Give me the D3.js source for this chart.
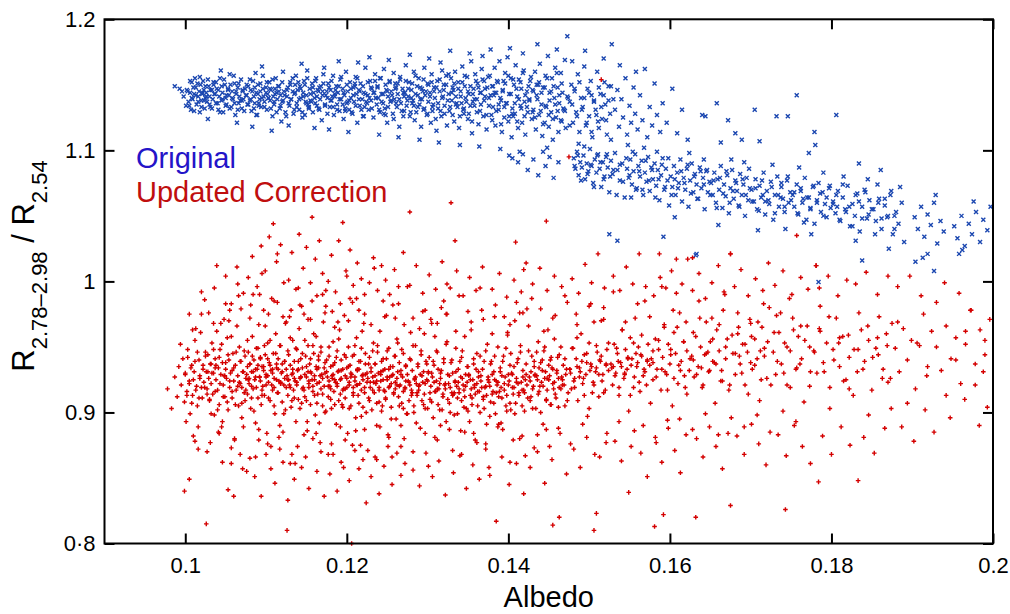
<!DOCTYPE html>
<html>
<head>
<meta charset="utf-8">
<script src="https://cdn.jsdelivr.net/npm/d3@7/dist/d3.min.js"></script>
<style>
html,body{margin:0;padding:0;background:#fff;}
svg{display:block;}
</style>
</head>
<body>
<svg id="chart" width="1010" height="614"></svg>
<script>
// Axis ticks and labels
const albedoTicks = [0.1, 0.12, 0.14, 0.16, 0.18, 0.2];
const albedoTickLabels = ["0.1", "0.12", "0.14", "0.16", "0.18", "0.2"];
const ratioTicks = [0.8, 0.9, 1.0, 1.1, 1.2];
const ratioTickLabels = ["0·8", "0.9", "1", "1.1", "1.2"];
const seriesNames = ["Original", "Updated Correction"];

// Original band ratio vs albedo: [albedo, ratio]
const originalPoints = [
[.0987,1.149],[.0993,1.147],[.0998,1.141],[.1002,1.146],[.1004,1.137],[.1006,1.144],[.1008,1.152],[.1009,1.139],[.1011,1.143],[.1013,1.148],[.1014,1.135],[.1016,1.141],[.1017,1.145],[.1019,1.150],[.1020,1.138],[.1021,1.143],[.1023,1.146],[.1024,1.132],[.1025,1.140],[.1001,1.134],[.1012,1.155],[.1018,1.129],[.1022,1.153],[.0996,1.145],[.1007,1.131],
[.1026,1.144],[.1027,1.137],[.1029,1.149],[.1030,1.141],[.1031,1.133],[.1033,1.146],[.1034,1.139],[.1035,1.152],[.1037,1.143],[.1038,1.136],[.1039,1.147],[.1041,1.131],[.1042,1.141],[.1043,1.155],[.1045,1.138],[.1046,1.144],[.1047,1.129],[.1049,1.150],[.1050,1.140],[.1051,1.135],[.1053,1.146],[.1054,1.142],[.1055,1.158],[.1057,1.133],[.1058,1.145],[.1059,1.139],[.1061,1.151],[.1062,1.127],[.1063,1.143],[.1065,1.148],[.1066,1.136],[.1067,1.141],[.1069,1.154],[.1070,1.132],[.1071,1.145],[.1072,1.139],[.1074,1.147],[.1028,1.124],[.1044,1.161],[.1064,1.121],
[.1076,1.142],[.1077,1.135],[.1078,1.149],[.1080,1.138],[.1081,1.146],[.1082,1.130],[.1084,1.153],[.1085,1.141],[.1086,1.136],[.1088,1.144],[.1089,1.127],[.1090,1.150],[.1092,1.139],[.1093,1.145],[.1094,1.133],[.1096,1.157],[.1097,1.141],[.1098,1.137],[.1100,1.148],[.1101,1.131],[.1102,1.143],[.1104,1.152],[.1105,1.138],[.1106,1.146],[.1108,1.126],[.1109,1.141],[.1110,1.135],[.1112,1.155],[.1113,1.144],[.1114,1.139],[.1116,1.149],[.1117,1.132],[.1118,1.142],[.1120,1.137],[.1121,1.160],[.1122,1.145],[.1124,1.129],[.1083,1.118],[.1095,1.164],[.1107,1.115],[.1119,1.122],[.1087,1.159],[.1111,1.147],[.1103,1.140],[.1091,1.134],
[.1126,1.141],[.1127,1.148],[.1129,1.134],[.1130,1.152],[.1131,1.139],[.1133,1.145],[.1134,1.128],[.1135,1.143],[.1137,1.157],[.1138,1.136],[.1139,1.146],[.1141,1.131],[.1142,1.149],[.1143,1.140],[.1145,1.125],[.1146,1.144],[.1147,1.153],[.1149,1.137],[.1150,1.142],[.1151,1.161],[.1153,1.133],[.1154,1.147],[.1155,1.138],[.1157,1.151],[.1158,1.129],[.1159,1.144],[.1161,1.136],[.1162,1.155],[.1163,1.141],[.1165,1.132],[.1166,1.148],[.1167,1.139],[.1169,1.123],[.1170,1.145],[.1171,1.158],[.1173,1.134],[.1174,1.142],[.1128,1.119],[.1144,1.166],[.1160,1.117],[.1172,1.163],[.1136,1.150],[.1152,1.135],[.1164,1.146],[.1148,1.127],
[.1176,1.140],[.1177,1.151],[.1179,1.133],[.1180,1.146],[.1181,1.138],[.1183,1.157],[.1184,1.127],[.1185,1.143],[.1187,1.149],[.1188,1.135],[.1189,1.144],[.1191,1.130],[.1192,1.154],[.1193,1.139],[.1195,1.147],[.1196,1.124],[.1197,1.142],[.1199,1.160],[.1200,1.136],[.1201,1.145],[.1203,1.131],[.1204,1.152],[.1205,1.140],[.1207,1.128],[.1208,1.148],[.1209,1.137],[.1211,1.156],[.1212,1.143],[.1213,1.121],[.1215,1.146],[.1216,1.134],[.1217,1.151],[.1219,1.139],[.1220,1.126],[.1221,1.144],[.1223,1.163],[.1224,1.137],[.1178,1.116],[.1190,1.168],[.1202,1.114],[.1214,1.167],[.1182,1.141],[.1198,1.132],[.1210,1.149],[.1222,1.133],
[.1226,1.142],[.1227,1.131],[.1229,1.153],[.1230,1.138],[.1231,1.147],[.1233,1.125],[.1234,1.144],[.1235,1.158],[.1237,1.135],[.1238,1.149],[.1239,1.140],[.1241,1.129],[.1242,1.155],[.1243,1.143],[.1245,1.136],[.1246,1.162],[.1247,1.132],[.1249,1.146],[.1250,1.121],[.1251,1.141],[.1253,1.152],[.1254,1.137],[.1255,1.145],[.1257,1.128],[.1258,1.159],[.1259,1.139],[.1261,1.148],[.1262,1.133],[.1263,1.143],[.1265,1.118],[.1266,1.154],[.1267,1.136],[.1269,1.147],[.1270,1.126],[.1271,1.141],[.1273,1.165],[.1274,1.134],[.1228,1.171],[.1240,1.112],[.1252,1.169],[.1264,1.110],[.1236,1.140],[.1248,1.127],[.1260,1.151],[.1272,1.144],
[.1276,1.141],[.1277,1.152],[.1279,1.129],[.1280,1.146],[.1281,1.136],[.1283,1.160],[.1284,1.123],[.1285,1.143],[.1287,1.149],[.1288,1.133],[.1289,1.155],[.1291,1.139],[.1292,1.118],[.1293,1.147],[.1295,1.131],[.1296,1.163],[.1297,1.142],[.1299,1.127],[.1300,1.151],[.1301,1.137],[.1303,1.144],[.1304,1.121],[.1305,1.158],[.1307,1.135],[.1308,1.148],[.1309,1.140],[.1311,1.115],[.1312,1.153],[.1313,1.132],[.1315,1.145],[.1316,1.167],[.1317,1.126],[.1319,1.141],[.1320,1.150],[.1321,1.134],[.1323,1.157],[.1324,1.119],[.1278,1.173],[.1290,1.108],[.1302,1.170],[.1314,1.106],[.1282,1.138],[.1294,1.145],[.1306,1.130],[.1318,1.161],
[.1326,1.143],[.1327,1.130],[.1329,1.155],[.1330,1.138],[.1331,1.148],[.1333,1.122],[.1334,1.160],[.1335,1.141],[.1337,1.133],[.1338,1.152],[.1339,1.117],[.1341,1.145],[.1342,1.136],[.1343,1.164],[.1345,1.128],[.1346,1.149],[.1347,1.140],[.1349,1.156],[.1350,1.124],[.1351,1.143],[.1353,1.134],[.1354,1.168],[.1355,1.113],[.1357,1.147],[.1358,1.139],[.1359,1.158],[.1361,1.129],[.1362,1.151],[.1363,1.120],[.1365,1.144],[.1366,1.135],[.1367,1.162],[.1369,1.126],[.1370,1.153],[.1371,1.141],[.1373,1.116],[.1374,1.148],[.1328,1.176],[.1340,1.104],[.1352,1.174],[.1364,1.103],[.1332,1.146],[.1344,1.131],[.1356,1.137],[.1368,1.172],
[.1376,1.140],[.1377,1.157],[.1379,1.127],[.1380,1.149],[.1381,1.133],[.1383,1.163],[.1384,1.119],[.1385,1.144],[.1387,1.152],[.1388,1.131],[.1389,1.168],[.1391,1.138],[.1392,1.114],[.1393,1.146],[.1395,1.125],[.1396,1.159],[.1397,1.136],[.1399,1.171],[.1400,1.122],[.1401,1.143],[.1403,1.155],[.1404,1.110],[.1405,1.132],[.1407,1.150],[.1408,1.128],[.1409,1.165],[.1411,1.141],[.1412,1.117],[.1413,1.154],[.1415,1.134],[.1416,1.147],[.1417,1.121],[.1419,1.161],[.1420,1.137],[.1421,1.112],[.1423,1.145],[.1424,1.129],[.1378,1.177],[.1390,1.101],[.1402,1.178],[.1414,1.099],[.1382,1.142],[.1394,1.153],[.1406,1.126],[.1418,1.174],
[.1426,1.139],[.1427,1.153],[.1429,1.124],[.1430,1.146],[.1431,1.131],[.1433,1.160],[.1434,1.116],[.1435,1.142],[.1437,1.150],[.1438,1.127],[.1439,1.166],[.1441,1.135],[.1442,1.111],[.1443,1.148],[.1445,1.121],[.1446,1.157],[.1447,1.133],[.1449,1.172],[.1450,1.118],[.1451,1.144],[.1453,1.129],[.1454,1.155],[.1455,1.108],[.1457,1.140],[.1458,1.163],[.1459,1.125],[.1461,1.148],[.1462,1.114],[.1463,1.136],[.1465,1.159],[.1466,1.122],[.1467,1.144],[.1469,1.131],[.1470,1.169],[.1471,1.117],[.1473,1.187],[.1474,1.140],[.1436,1.181],[.1448,1.102],[.1460,1.177],
[.1476,1.137],[.1478,1.150],[.1480,1.121],[.1482,1.145],[.1484,1.129],[.1486,1.158],[.1488,1.114],[.1490,1.140],[.1492,1.133],[.1494,1.164],[.1496,1.119],[.1498,1.147],[.1500,1.126],[.1502,1.153],[.1504,1.110],[.1506,1.138],[.1508,1.131],[.1510,1.160],[.1512,1.117],[.1514,1.143],[.1516,1.124],[.1518,1.170],[.1520,1.135],[.1522,1.112],[.1524,1.149],[.1526,1.128],[.1528,1.181],[.1479,1.168],[.1487,1.105],[.1495,1.176],[.1503,1.142],[.1511,1.122],[.1519,1.152],[.1527,1.108],[.1530,1.139],
[.1532,1.131],[.1535,1.146],[.1537,1.118],[.1540,1.139],[.1542,1.125],[.1545,1.155],[.1547,1.112],[.1550,1.134],[.1552,1.121],[.1555,1.148],[.1557,1.128],[.1560,1.116],[.1563,1.142],[.1566,1.123],[.1569,1.162],[.1572,1.110],[.1575,1.133],[.1578,1.119],[.1581,1.151],[.1584,1.127],[.1588,1.114],[.1538,1.165],[.1548,1.104],[.1558,1.160],[.1591,1.136],
[.1596,1.121],[.1603,1.147],[.1609,1.113],[.1615,1.131],[.1622,1.108],[.1640,1.127],[.1658,1.136],[.1644,1.126],[.1705,1.131],[.1663,1.106],[.1672,1.123],[.1681,1.113],[.1732,1.126],[.1746,1.126],[.1711,1.107],[.1757,1.142],[.1806,1.127],[.1780,1.104],[.1772,1.098],[.1779,1.114],[.1834,1.090],[.1861,1.085],[.1689,1.108],
[.1003,1.145],[.1005,1.134],[.1006,1.153],[.1008,1.140],[.1010,1.148],[.1011,1.130],[.1013,1.142],[.1015,1.151],[.1016,1.137],[.1018,1.156],[.1020,1.133],[.1021,1.144],[.1023,1.138],[.1025,1.149],[.1026,1.141],[.1028,1.154],[.1030,1.135],[.1031,1.146],[.1033,1.132],[.1035,1.150],
[.1036,1.143],[.1038,1.152],[.1040,1.136],[.1041,1.146],[.1043,1.129],[.1045,1.149],[.1046,1.139],[.1048,1.154],[.1050,1.134],[.1051,1.142],[.1053,1.147],[.1055,1.132],[.1056,1.150],[.1058,1.140],[.1060,1.157],[.1061,1.136],[.1063,1.145],[.1065,1.131],[.1066,1.151],[.1068,1.138],
[.1070,1.138],[.1071,1.146],[.1073,1.130],[.1075,1.142],[.1076,1.150],[.1078,1.135],[.1080,1.154],[.1081,1.139],[.1083,1.145],[.1085,1.132],[.1086,1.148],[.1088,1.127],[.1090,1.143],[.1091,1.136],[.1093,1.151],[.1095,1.140],[.1096,1.147],[.1098,1.133],[.1100,1.144],[.1101,1.152],
[.1103,1.140],[.1105,1.147],[.1106,1.132],[.1108,1.154],[.1110,1.137],[.1111,1.143],[.1113,1.129],[.1115,1.149],[.1116,1.145],[.1118,1.134],[.1120,1.152],[.1121,1.138],[.1123,1.142],[.1125,1.126],[.1126,1.146],[.1128,1.136],[.1130,1.150],[.1131,1.139],[.1133,1.155],[.1135,1.131],
[.1136,1.144],[.1138,1.133],[.1140,1.152],[.1141,1.139],[.1143,1.147],[.1145,1.129],[.1146,1.141],[.1148,1.150],[.1150,1.136],[.1151,1.155],[.1153,1.132],[.1155,1.143],[.1156,1.137],[.1158,1.148],[.1160,1.140],[.1161,1.153],[.1163,1.134],[.1165,1.145],[.1166,1.131],[.1168,1.149],
[.1170,1.142],[.1171,1.151],[.1173,1.135],[.1175,1.145],[.1176,1.128],[.1178,1.148],[.1180,1.138],[.1181,1.153],[.1183,1.133],[.1185,1.141],[.1186,1.146],[.1188,1.131],[.1190,1.149],[.1191,1.139],[.1193,1.156],[.1195,1.135],[.1196,1.144],[.1198,1.130],[.1200,1.150],[.1201,1.137],
[.1203,1.138],[.1205,1.147],[.1206,1.129],[.1208,1.142],[.1210,1.151],[.1211,1.134],[.1213,1.155],[.1215,1.139],[.1216,1.145],[.1218,1.131],[.1220,1.149],[.1221,1.126],[.1223,1.143],[.1225,1.136],[.1226,1.152],[.1228,1.140],[.1230,1.148],[.1231,1.132],[.1233,1.144],[.1235,1.153],
[.1236,1.140],[.1238,1.148],[.1240,1.131],[.1241,1.155],[.1243,1.137],[.1245,1.143],[.1246,1.128],[.1248,1.150],[.1250,1.145],[.1251,1.133],[.1253,1.153],[.1255,1.138],[.1256,1.142],[.1258,1.124],[.1260,1.147],[.1261,1.136],[.1263,1.151],[.1265,1.139],[.1266,1.156],[.1268,1.130],
[.1270,1.144],[.1271,1.130],[.1273,1.153],[.1275,1.138],[.1276,1.147],[.1278,1.126],[.1280,1.140],[.1281,1.151],[.1283,1.134],[.1285,1.157],[.1286,1.129],[.1288,1.142],[.1290,1.135],[.1291,1.148],[.1293,1.139],[.1295,1.154],[.1296,1.132],[.1298,1.145],[.1300,1.128],[.1301,1.150],
[.1303,1.141],[.1305,1.152],[.1306,1.133],[.1308,1.145],[.1310,1.124],[.1311,1.148],[.1313,1.136],[.1315,1.154],[.1316,1.130],[.1318,1.140],[.1320,1.146],[.1321,1.128],[.1323,1.150],[.1325,1.138],[.1326,1.158],[.1328,1.133],[.1330,1.144],[.1331,1.127],[.1333,1.151],[.1335,1.135],
[.1336,1.136],[.1338,1.147],[.1340,1.126],[.1341,1.141],[.1343,1.152],[.1345,1.132],[.1346,1.157],[.1348,1.137],[.1350,1.145],[.1351,1.128],[.1353,1.149],[.1355,1.122],[.1356,1.143],[.1358,1.134],[.1360,1.153],[.1361,1.139],[.1363,1.148],[.1365,1.130],[.1366,1.144],[.1368,1.154],
[.1370,1.138],[.1371,1.147],[.1373,1.127],[.1375,1.156],[.1376,1.134],[.1378,1.142],[.1380,1.123],[.1381,1.149],[.1383,1.144],[.1385,1.130],[.1386,1.153],[.1388,1.135],[.1390,1.140],[.1391,1.120],[.1393,1.145],[.1395,1.133],[.1396,1.151],[.1398,1.136],[.1400,1.157],[.1401,1.126],
[.1403,1.143],[.1405,1.128],[.1406,1.154],[.1408,1.136],[.1410,1.147],[.1411,1.122],[.1413,1.139],[.1415,1.152],[.1416,1.132],[.1418,1.159],[.1420,1.126],[.1421,1.142],[.1423,1.133],[.1425,1.149],[.1426,1.138],[.1428,1.156],[.1430,1.129],[.1431,1.145],[.1433,1.125],[.1435,1.150],
[.1436,1.139],[.1438,1.152],[.1440,1.130],[.1441,1.144],[.1443,1.120],[.1445,1.148],[.1446,1.134],[.1448,1.155],[.1450,1.127],[.1451,1.138],[.1453,1.145],[.1455,1.124],[.1456,1.149],[.1458,1.135],[.1460,1.159],[.1461,1.130],[.1463,1.142],[.1465,1.123],[.1466,1.151],[.1468,1.132],
[.1470,1.130],[.1473,1.141],[.1476,1.119],[.1479,1.135],[.1482,1.147],[.1485,1.126],[.1488,1.152],[.1491,1.131],[.1494,1.140],[.1497,1.121],[.1500,1.144],[.1503,1.114],[.1506,1.137],[.1509,1.127],[.1512,1.148],[.1515,1.133],[.1518,1.142],[.1521,1.123],[.1524,1.138],[.1527,1.149],
[.1401,1.096],[.1405,1.094],[.1412,1.091],[.1418,1.097],[.1424,1.085],[.1431,1.093],[.1437,1.081],[.1443,1.099],[.1446,1.088],[.1451,1.095],[.1456,1.079],[.1462,1.091],
[.1481,1.094],[.1483,1.086],[.1485,1.099],[.1487,1.081],[.1489,1.091],[.1491,1.087],[.1493,1.096],[.1495,1.078],[.1497,1.090],[.1499,1.084],[.1501,1.101],[.1503,1.088],[.1505,1.075],[.1507,1.093],[.1509,1.083],[.1511,1.097],[.1513,1.086],[.1515,1.072],[.1517,1.091],[.1519,1.080],[.1521,1.095],[.1523,1.087],[.1525,1.068],[.1527,1.092],[.1529,1.082],[.1532,1.098],[.1535,1.085],[.1538,1.077],[.1541,1.090],[.1544,1.064],
[.1547,1.086],[.1549,1.079],[.1551,1.093],[.1553,1.074],[.1555,1.084],[.1557,1.097],[.1559,1.071],[.1561,1.088],[.1563,1.080],[.1565,1.092],[.1567,1.066],[.1569,1.083],[.1571,1.076],[.1573,1.095],[.1575,1.069],[.1577,1.087],[.1579,1.078],[.1581,1.090],[.1583,1.073],[.1585,1.085],[.1587,1.062],[.1589,1.081],[.1591,1.094],[.1593,1.070],[.1595,1.086],[.1597,1.077],[.1599,1.058],[.1552,1.064],[.1568,1.102],[.1584,1.099],
[.1601,1.080],[.1603,1.072],[.1605,1.088],[.1607,1.066],[.1609,1.083],[.1611,1.075],[.1613,1.093],[.1615,1.061],[.1617,1.079],[.1619,1.070],[.1621,1.086],[.1623,1.057],[.1625,1.077],[.1627,1.090],[.1629,1.068],[.1631,1.082],[.1633,1.074],[.1635,1.063],[.1637,1.087],[.1639,1.071],[.1641,1.079],[.1643,1.055],[.1645,1.084],[.1647,1.068],[.1649,1.076],[.1606,1.049],[.1624,1.098],[.1642,1.093],
[.1651,1.075],[.1653,1.066],[.1655,1.083],[.1657,1.060],[.1659,1.078],[.1661,1.070],[.1663,1.088],[.1665,1.056],[.1667,1.074],[.1669,1.065],[.1671,1.081],[.1673,1.052],[.1675,1.071],[.1677,1.085],[.1679,1.063],[.1681,1.077],[.1683,1.069],[.1685,1.058],[.1687,1.082],[.1689,1.066],[.1691,1.074],[.1693,1.050],[.1695,1.079],[.1697,1.062],[.1699,1.071],[.1660,1.043],[.1676,1.093],[.1692,1.091],
[.1701,1.070],[.1704,1.061],[.1706,1.078],[.1708,1.055],[.1711,1.073],[.1713,1.064],[.1716,1.083],[.1718,1.051],[.1720,1.069],[.1723,1.059],[.1725,1.076],[.1728,1.047],[.1730,1.066],[.1733,1.080],[.1735,1.057],[.1738,1.072],[.1740,1.063],[.1742,1.053],[.1745,1.077],[.1747,1.060],[.1749,1.068],[.1709,1.039],[.1727,1.089],[.1743,1.040],[.1715,1.066],[.1737,1.064],
[.1752,1.066],[.1754,1.057],[.1757,1.074],[.1759,1.051],[.1762,1.069],[.1764,1.060],[.1767,1.079],[.1769,1.047],[.1772,1.064],[.1774,1.055],[.1777,1.072],[.1779,1.044],[.1782,1.062],[.1784,1.075],[.1787,1.053],[.1789,1.068],[.1792,1.059],[.1794,1.049],[.1797,1.071],[.1799,1.056],[.1760,1.087],[.1775,1.036],[.1790,1.083],[.1765,1.063],
[.1802,1.061],[.1805,1.052],[.1808,1.069],[.1811,1.046],[.1814,1.064],[.1817,1.055],[.1820,1.073],[.1823,1.042],[.1826,1.059],[.1829,1.050],[.1832,1.067],[.1835,1.038],[.1838,1.057],[.1841,1.070],[.1844,1.048],[.1847,1.062],[.1815,1.080],[.1830,1.031],[.1845,1.078],[.1807,1.057],
[.1852,1.055],[.1855,1.046],[.1859,1.063],[.1862,1.040],[.1866,1.058],[.1869,1.049],[.1873,1.066],[.1876,1.036],[.1880,1.053],[.1883,1.044],[.1887,1.060],[.1890,1.030],[.1857,1.074],[.1871,1.025],[.1885,1.072],[.1878,1.050],
[.1903,1.049],[.1907,1.040],[.1911,1.057],[.1915,1.034],[.1919,1.051],[.1923,1.043],[.1927,1.060],[.1931,1.029],[.1935,1.046],[.1939,1.038],[.1913,1.018],[.1929,1.066],
[.1952,1.042],[.1956,1.033],[.1961,1.050],[.1965,1.027],[.1970,1.044],[.1974,1.036],[.1979,1.053],[.1984,1.030],[.1988,1.047],[.1993,1.039],[.1997,1.057],[.1958,1.021],[.1976,1.061],
[.1482,1.088],[.1486,1.096],[.1490,1.077],[.1494,1.103],[.1498,1.082],[.1502,1.089],[.1506,1.072],[.1510,1.096],[.1514,1.091],[.1518,1.078],[.1522,1.097],[.1526,1.080],[.1530,1.085],[.1534,1.066],[.1538,1.089],[.1542,1.076],[.1546,1.094],[.1550,1.081],[.1554,1.099],[.1558,1.070],
[.1562,1.084],[.1566,1.070],[.1570,1.092],[.1574,1.077],[.1578,1.085],[.1582,1.064],[.1586,1.078],[.1590,1.089],[.1594,1.072],[.1598,1.094],[.1602,1.066],[.1606,1.078],[.1610,1.071],[.1614,1.084],[.1618,1.075],[.1622,1.089],[.1626,1.067],[.1630,1.080],[.1634,1.063],[.1638,1.084],
[.1642,1.074],[.1646,1.085],[.1650,1.066],[.1654,1.077],[.1658,1.056],[.1662,1.079],[.1666,1.067],[.1670,1.084],[.1674,1.060],[.1678,1.069],[.1682,1.075],[.1686,1.057],[.1690,1.078],[.1694,1.066],[.1698,1.086],[.1702,1.061],[.1706,1.071],[.1710,1.054],[.1714,1.077],[.1718,1.061],
[.1722,1.062],[.1726,1.072],[.1730,1.052],[.1734,1.066],[.1738,1.075],[.1742,1.057],[.1746,1.080],[.1750,1.062],[.1754,1.068],[.1758,1.052],[.1762,1.071],[.1766,1.045],[.1770,1.064],[.1774,1.056],[.1778,1.073],[.1782,1.060],[.1786,1.067],[.1790,1.050],[.1794,1.064],[.1798,1.073],
[.1802,1.059],[.1806,1.066],[.1810,1.047],[.1814,1.074],[.1818,1.053],[.1822,1.057],[.1826,1.042],[.1830,1.066],[.1834,1.061],[.1838,1.048],[.1842,1.068],[.1846,1.051],[.1850,1.055],[.1854,1.036],[.1858,1.060],[.1862,1.048],[.1866,1.063],[.1870,1.050],[.1874,1.069],[.1878,1.040],
[.1632,1.020],[.1838,1.016],[.1904,1.015],[.1919,1.021],[.1927,1.008],[.1784,0.9995],[.1962,1.024],[.1525,1.036],[.1535,1.031],[.1592,1.034],[.1633,1.021]
];

// Updated correction: [albedo, ratio]
const updatedPoints = [
[.0978,0.918],[.0983,0.903],[.0987,0.927],[.0990,0.912],[.0992,0.935],[.0995,0.921],[.0997,0.941],[.0999,0.908],[.1000,0.929],[.1002,0.916],[.1003,0.948],[.1005,0.924],[.1006,0.899],[.1008,0.936],[.1009,0.913],[.1011,0.931],[.1012,0.955],[.1014,0.920],[.1015,0.905],[.1017,0.940],[.1018,0.926],[.1019,0.961],[.1021,0.911],[.1022,0.933],[.1024,0.919],[.1025,0.946],[.0999,0.840],[.1005,0.849],[.1026,0.815],[.1010,0.882],[.1016,0.872],[.1001,0.893],[.1020,0.975],[.1013,0.964],[.0994,0.952],
[.1026,0.931],[.1027,0.918],[.1028,0.944],[.1029,0.926],[.1030,0.909],[.1031,0.937],[.1032,0.922],[.1033,0.953],[.1034,0.914],[.1035,0.930],[.1036,0.898],[.1037,0.941],[.1038,0.925],[.1039,0.962],[.1040,0.917],[.1041,0.934],[.1042,0.906],[.1043,0.948],[.1044,0.929],[.1045,0.889],[.1046,0.938],[.1047,0.921],[.1048,0.971],[.1049,0.912],[.1050,0.933],[.1051,0.926],[.1052,0.957],[.1053,0.902],[.1054,0.940],[.1055,0.919],[.1056,0.930],[.1057,0.983],[.1058,0.911],[.1059,0.945],[.1060,0.924],[.1061,0.879],[.1062,0.936],[.1063,0.917],[.1064,0.966],[.1065,0.928],[.1066,0.905],[.1067,0.950],[.1068,0.922],[.1069,0.939],[.1070,0.896],[.1071,0.931],[.1072,0.991],[.1073,0.915],[.1074,0.943],[.1075,0.926],[.1053,0.841],[.1060,0.836],[.1046,0.862],[.1068,0.868],[.1029,0.976],[.1036,0.995],[.1050,1.004],[.1064,1.011],[.1041,0.885],[.1057,0.873],[.1071,0.857],[.1032,0.899],[.1044,0.968],[.1055,0.978],[.1066,0.989],[.1074,0.909],[.1037,0.934],[.1049,0.928],[.1058,0.932],[.1070,0.919],
[.1076,0.929],[.1077,0.914],[.1078,0.946],[.1079,0.922],[.1080,0.937],[.1081,0.903],[.1082,0.931],[.1083,0.958],[.1084,0.918],[.1085,0.940],[.1086,0.925],[.1087,0.892],[.1088,0.949],[.1089,0.933],[.1090,0.911],[.1091,0.967],[.1092,0.927],[.1093,0.942],[.1094,0.906],[.1095,0.935],[.1096,0.920],[.1097,0.978],[.1098,0.913],[.1099,0.944],[.1100,0.929],[.1101,0.884],[.1102,0.953],[.1103,0.923],[.1104,0.938],[.1105,0.909],[.1106,0.932],[.1107,0.987],[.1108,0.917],[.1109,0.945],[.1110,0.926],[.1111,0.899],[.1112,0.960],[.1113,0.934],[.1114,0.915],[.1115,0.941],[.1116,0.924],[.1117,0.872],[.1118,0.951],[.1119,0.930],[.1120,0.908],[.1121,0.973],[.1122,0.921],[.1123,0.939],[.1124,0.902],[.1125,0.933],
[.1078,1.003],[.1083,1.019],[.1089,0.996],[.1094,1.027],[.1099,1.008],[.1104,1.034],[.1109,1.044],[.1113,1.015],[.1118,1.028],[.1122,0.999],[.1080,0.865],[.1086,0.851],[.1091,0.879],[.1094,0.836],[.1100,0.868],[.1106,0.857],[.1111,0.846],[.1116,0.881],[.1121,0.862],[.1126,0.810],
[.1077,0.935],[.1079,0.926],[.1082,0.920],[.1084,0.931],[.1087,0.927],[.1090,0.936],[.1093,0.924],[.1095,0.917],[.1097,0.932],[.1100,0.921],[.1102,0.928],[.1105,0.936],[.1108,0.930],[.1110,0.919],[.1113,0.925],[.1115,0.933],[.1118,0.922],[.1120,0.937],[.1123,0.926],[.1081,0.982],[.1092,0.990],[.1103,0.975],[.1114,0.984],[.1124,0.968],
[.1126,0.928],[.1127,0.913],[.1128,0.944],[.1129,0.921],[.1130,0.936],[.1131,0.904],[.1132,0.929],[.1133,0.955],[.1134,0.917],[.1135,0.939],[.1136,0.924],[.1137,0.893],[.1138,0.948],[.1139,0.932],[.1140,0.910],[.1141,0.964],[.1142,0.926],[.1143,0.941],[.1144,0.907],[.1145,0.934],[.1146,0.919],[.1147,0.975],[.1148,0.912],[.1149,0.943],[.1150,0.927],[.1151,0.886],[.1152,0.951],[.1153,0.922],[.1154,0.937],[.1155,0.906],[.1156,0.930],[.1157,0.985],[.1158,0.916],[.1159,0.945],[.1160,0.925],[.1161,0.898],[.1162,0.958],[.1163,0.933],[.1164,0.914],[.1165,0.940],[.1166,0.923],[.1167,0.877],[.1168,0.950],[.1169,0.929],[.1170,0.905],[.1171,0.969],[.1172,0.920],[.1173,0.938],[.1174,0.901],[.1175,0.931],
[.1128,1.001],[.1132,1.022],[.1137,0.994],[.1141,1.036],[.1146,1.010],[.1150,1.026],[.1155,0.999],[.1157,1.049],[.1161,1.017],[.1166,1.031],[.1170,1.006],[.1174,0.993],[.1127,0.833],[.1130,0.861],[.1135,0.849],[.1139,0.874],[.1144,0.858],[.1149,0.866],[.1153,0.842],[.1158,0.880],[.1163,0.855],[.1168,0.870],[.1172,0.836],
[.1127,0.925],[.1130,0.919],[.1133,0.930],[.1135,0.926],[.1138,0.921],[.1140,0.933],[.1143,0.927],[.1145,0.918],[.1148,0.929],[.1150,0.935],[.1153,0.924],[.1155,0.931],[.1158,0.920],[.1160,0.928],[.1163,0.922],[.1165,0.934],[.1168,0.918],[.1170,0.926],[.1173,0.930],[.1131,0.978],[.1142,0.982],[.1152,0.971],[.1163,0.989],[.1173,0.976],
[.1176,0.927],[.1177,0.912],[.1178,0.943],[.1179,0.920],[.1180,0.935],[.1181,0.903],[.1182,0.928],[.1183,0.954],[.1184,0.916],[.1185,0.938],[.1186,0.923],[.1187,0.891],[.1188,0.947],[.1189,0.931],[.1190,0.909],[.1191,0.963],[.1192,0.925],[.1193,0.940],[.1194,0.906],[.1195,0.933],[.1196,0.918],[.1197,0.974],[.1198,0.911],[.1199,0.942],[.1200,0.926],[.1201,0.884],[.1202,0.950],[.1203,0.921],[.1204,0.936],[.1205,0.905],[.1206,0.929],[.1207,0.984],[.1208,0.915],[.1209,0.944],[.1210,0.924],[.1211,0.896],[.1212,0.957],[.1213,0.932],[.1214,0.913],[.1215,0.939],[.1216,0.922],[.1217,0.875],[.1218,0.949],[.1219,0.928],[.1220,0.904],[.1221,0.968],[.1222,0.919],[.1223,0.937],[.1224,0.900],[.1225,0.930],
[.1177,1.000],[.1181,1.020],[.1186,0.992],[.1190,1.031],[.1195,1.045],[.1199,1.008],[.1204,1.024],[.1208,0.997],[.1213,1.014],[.1218,1.002],[.1222,0.990],[.1179,0.853],[.1183,0.868],[.1188,0.840],[.1193,0.862],[.1198,0.879],[.1203,0.848],[.1206,0.800],[.1210,0.871],[.1215,0.857],[.1220,0.864],[.1224,0.831],
[.1178,0.924],[.1180,0.918],[.1183,0.929],[.1185,0.925],[.1188,0.920],[.1190,0.932],[.1193,0.926],[.1195,0.917],[.1198,0.928],[.1200,0.934],[.1203,0.923],[.1205,0.930],[.1208,0.919],[.1210,0.927],[.1213,0.921],[.1215,0.933],[.1218,0.917],[.1220,0.925],[.1223,0.929],[.1182,0.977],[.1192,0.983],[.1202,0.970],[.1212,0.987],[.1222,0.975],
[.1226,0.926],[.1227,0.911],[.1228,0.942],[.1229,0.919],[.1230,0.934],[.1231,0.902],[.1232,0.927],[.1233,0.953],[.1234,0.915],[.1235,0.937],[.1236,0.922],[.1237,0.890],[.1238,0.946],[.1239,0.930],[.1240,0.908],[.1241,0.962],[.1242,0.924],[.1243,0.939],[.1244,0.905],[.1245,0.932],[.1246,0.917],[.1247,0.973],[.1248,0.910],[.1249,0.941],[.1250,0.925],[.1251,0.883],[.1252,0.949],[.1253,0.920],[.1254,0.935],[.1255,0.904],[.1256,0.928],[.1257,0.982],[.1258,0.914],[.1259,0.943],[.1260,0.923],[.1261,0.895],[.1262,0.956],[.1263,0.931],[.1264,0.912],[.1265,0.938],[.1266,0.921],[.1267,0.874],[.1268,0.948],[.1269,0.927],[.1270,0.903],[.1271,0.967],[.1272,0.918],[.1273,0.936],[.1274,0.899],[.1275,0.929],
[.1228,0.999],[.1233,1.018],[.1238,0.993],[.1243,1.012],[.1248,1.001],[.1253,0.990],[.1259,1.009],[.1264,0.996],[.1270,1.022],[.1278,1.053],[.1230,0.851],[.1235,0.866],[.1240,0.838],[.1246,0.859],[.1251,0.874],[.1256,0.845],[.1262,0.869],[.1267,0.852],[.1272,0.861],
[.1229,0.923],[.1232,0.917],[.1235,0.928],[.1237,0.924],[.1240,0.919],[.1242,0.931],[.1245,0.925],[.1247,0.916],[.1250,0.927],[.1252,0.933],[.1255,0.922],[.1257,0.929],[.1260,0.918],[.1262,0.926],[.1265,0.920],[.1267,0.932],[.1270,0.916],[.1273,0.924],
[.1276,0.924],[.1277,0.909],[.1279,0.940],[.1280,0.917],[.1281,0.932],[.1283,0.900],[.1284,0.925],[.1285,0.951],[.1287,0.913],[.1288,0.935],[.1289,0.920],[.1291,0.888],[.1292,0.944],[.1293,0.928],[.1295,0.906],[.1296,0.960],[.1297,0.922],[.1299,0.937],[.1300,0.903],[.1301,0.930],[.1303,0.915],[.1304,0.971],[.1305,0.908],[.1307,0.939],[.1308,0.923],[.1309,0.881],[.1311,0.947],[.1312,0.918],[.1313,0.933],[.1315,0.902],[.1316,0.926],[.1317,0.980],[.1319,0.912],[.1320,0.941],[.1321,0.921],[.1323,0.893],[.1324,0.954],[.1325,0.929],
[.1278,0.997],[.1286,1.012],[.1294,0.991],[.1302,1.005],[.1310,0.994],[.1318,1.015],[.1324,0.998],[.1329,1.060],[.1282,0.856],[.1290,0.844],[.1298,0.869],[.1306,0.851],[.1314,0.863],[.1322,0.837],
[.1278,0.921],[.1281,0.915],[.1284,0.926],[.1286,0.922],[.1289,0.917],[.1291,0.929],[.1294,0.923],[.1296,0.914],[.1299,0.925],[.1301,0.931],[.1304,0.920],[.1306,0.927],[.1309,0.916],[.1311,0.924],[.1314,0.918],[.1316,0.930],[.1319,0.914],[.1322,0.922],[.1282,0.972],[.1297,0.978],[.1312,0.968],[.1323,0.975],
[.1326,0.922],[.1327,0.907],[.1329,0.938],[.1330,0.915],[.1331,0.930],[.1333,0.898],[.1334,0.923],[.1335,0.949],[.1337,0.911],[.1338,0.933],[.1339,0.918],[.1341,0.886],[.1342,0.942],[.1343,0.926],[.1345,0.904],[.1346,0.958],[.1347,0.920],[.1349,0.935],[.1350,0.901],[.1351,0.928],[.1353,0.913],[.1354,0.969],[.1355,0.906],[.1357,0.937],[.1358,0.921],[.1359,0.879],[.1361,0.945],[.1362,0.916],[.1363,0.931],[.1365,0.900],[.1366,0.924],[.1367,0.978],[.1369,0.910],[.1370,0.939],[.1371,0.919],[.1373,0.891],[.1374,0.952],[.1375,0.927],
[.1328,0.995],[.1336,1.008],[.1344,0.989],[.1352,1.003],[.1360,0.993],[.1368,1.011],[.1334,1.031],[.1332,0.854],[.1340,0.867],[.1348,0.842],[.1356,0.860],[.1364,0.849],[.1372,0.872],
[.1328,0.919],[.1331,0.913],[.1334,0.924],[.1336,0.920],[.1339,0.915],[.1341,0.927],[.1344,0.921],[.1346,0.912],[.1349,0.923],[.1351,0.929],[.1354,0.918],[.1356,0.925],[.1359,0.914],[.1361,0.922],[.1364,0.916],[.1366,0.928],[.1369,0.912],[.1372,0.920],
[.1376,0.923],[.1378,0.908],[.1379,0.939],[.1381,0.916],[.1382,0.931],[.1384,0.899],[.1385,0.924],[.1387,0.950],[.1388,0.912],[.1390,0.934],[.1391,0.919],[.1393,0.887],[.1394,0.943],[.1396,0.927],[.1397,0.905],[.1399,0.959],[.1400,0.921],[.1402,0.936],[.1403,0.902],[.1405,0.929],[.1406,0.914],[.1408,0.970],[.1409,0.907],[.1411,0.938],[.1412,0.922],[.1414,0.880],[.1415,0.946],[.1417,0.917],[.1418,0.932],[.1420,0.901],[.1421,0.925],[.1423,0.979],[.1424,0.911],
[.1380,0.994],[.1389,1.006],[.1398,0.988],[.1407,1.001],[.1416,0.992],[.1422,1.014],[.1377,0.852],[.1385,0.817],[.1392,0.866],[.1401,0.845],[.1410,0.861],[.1419,0.838],
[.1377,0.920],[.1380,0.914],[.1383,0.925],[.1386,0.921],[.1389,0.916],[.1392,0.928],[.1395,0.922],[.1398,0.913],[.1401,0.924],[.1404,0.930],[.1407,0.919],[.1410,0.926],[.1413,0.915],[.1416,0.923],[.1419,0.917],[.1422,0.929],[.1383,0.973],[.1402,0.967],[.1418,0.976],
[.1426,0.927],[.1428,0.912],[.1429,0.943],[.1431,0.920],[.1432,0.935],[.1434,0.903],[.1435,0.928],[.1437,0.954],[.1438,0.916],[.1440,0.938],[.1441,0.923],[.1443,0.891],[.1444,0.947],[.1446,0.931],[.1447,0.909],[.1449,0.963],[.1450,0.925],[.1452,0.940],[.1453,0.906],[.1455,0.933],[.1456,0.918],[.1458,0.974],[.1459,0.911],[.1461,0.942],[.1462,0.926],[.1464,0.884],[.1465,0.950],[.1467,0.921],[.1468,0.936],[.1470,0.905],[.1471,0.929],[.1473,0.984],[.1474,0.915],
[.1430,0.998],[.1439,1.010],[.1448,0.993],[.1457,1.004],[.1466,0.996],[.1427,0.858],[.1436,0.870],[.1445,0.846],[.1455,0.814],[.1463,0.820],[.1454,0.864],[.1472,0.853],
[.1427,0.924],[.1430,0.918],[.1433,0.929],[.1436,0.925],[.1439,0.920],[.1442,0.932],[.1445,0.926],[.1448,0.917],[.1451,0.928],[.1454,0.934],[.1457,0.923],[.1460,0.930],[.1463,0.919],[.1466,0.927],[.1469,0.921],[.1472,0.933],
[.1476,0.933],[.1478,0.918],[.1480,0.949],[.1482,0.926],[.1484,0.941],[.1486,0.909],[.1488,0.934],[.1490,0.960],[.1492,0.922],[.1494,0.944],[.1496,0.929],[.1498,0.897],[.1500,0.953],[.1502,0.937],[.1504,0.915],[.1506,0.969],[.1508,0.931],[.1510,0.946],[.1512,0.912],[.1514,0.939],[.1516,0.924],[.1518,0.980],[.1520,0.917],[.1522,0.948],[.1524,0.932],
[.1479,1.002],[.1487,0.991],[.1495,1.013],[.1503,0.999],[.1511,1.021],[.1519,0.995],[.1481,0.872],[.1489,0.858],[.1497,0.881],[.1506,0.810],[.1509,0.823],[.1513,0.866],[.1521,0.877],
[.1477,0.930],[.1481,0.924],[.1485,0.935],[.1489,0.931],[.1493,0.926],[.1497,0.938],[.1501,0.932],[.1505,0.923],[.1509,0.934],[.1513,0.940],[.1517,0.929],[.1521,0.936],[.1484,0.975],[.1502,0.983],[.1518,0.971],
[.1527,0.937],[.1529,0.921],[.1531,0.952],[.1533,0.930],[.1535,0.945],[.1537,0.913],[.1539,0.938],[.1541,0.963],[.1543,0.926],[.1545,0.948],[.1547,0.933],[.1549,0.901],[.1551,0.957],[.1553,0.941],[.1555,0.919],[.1557,0.972],[.1559,0.935],[.1561,0.950],[.1563,0.916],[.1565,0.943],[.1567,0.928],[.1569,0.985],[.1571,0.921],[.1573,0.952],[.1575,0.936],
[.1530,1.004],[.1538,0.993],[.1546,1.011],[.1554,0.998],[.1562,1.021],[.1570,0.996],[.1532,0.878],[.1540,0.863],[.1549,0.839],[.1556,0.886],[.1564,0.869],[.1572,0.851],[.1581,0.813],
[.1528,0.934],[.1532,0.928],[.1536,0.939],[.1540,0.935],[.1544,0.930],[.1548,0.942],[.1552,0.936],[.1556,0.927],[.1560,0.938],[.1564,0.944],[.1568,0.933],[.1572,0.940],
[.1577,0.941],[.1579,0.925],[.1582,0.956],[.1584,0.933],[.1586,0.948],[.1589,0.917],[.1591,0.942],[.1593,0.967],[.1596,0.929],[.1598,0.952],[.1600,0.937],[.1603,0.905],[.1605,0.961],[.1607,0.945],[.1610,0.922],[.1612,0.976],[.1614,0.939],[.1617,0.954],[.1619,0.919],[.1621,0.947],[.1624,0.932],[.1580,0.989],[.1588,1.003],[.1595,0.995],[.1602,1.008],[.1608,0.991],[.1615,0.998],[.1622,1.017],[.1587,1.021],[.1592,0.822],[.1583,0.877],[.1590,0.862],[.1598,0.888],[.1606,0.871],[.1613,0.854],[.1620,0.883],[.1632,0.820],[.1579,0.938],[.1594,0.931],[.1601,0.944],[.1611,0.936],[.1618,0.928],
[.1627,0.943],[.1630,0.927],[.1632,0.958],[.1635,0.935],[.1638,0.950],[.1640,0.919],[.1643,0.944],[.1645,0.969],[.1648,0.931],[.1650,0.954],[.1653,0.939],[.1656,0.907],[.1658,0.963],[.1661,0.947],[.1663,0.924],[.1666,0.978],[.1669,0.941],[.1671,0.956],[.1674,0.921],
[.1628,0.993],[.1636,1.006],[.1644,0.987],[.1652,0.999],[.1660,1.012],[.1667,0.992],[.1675,1.021],[.1628,1.018],[.1633,0.880],[.1641,0.866],[.1649,0.889],[.1657,0.874],[.1665,0.857],[.1672,0.884],[.1675,0.829],
[.1629,0.940],[.1639,0.934],[.1647,0.946],[.1655,0.938],[.1664,0.932],
[.1678,0.945],[.1681,0.929],[.1684,0.960],[.1687,0.937],[.1690,0.952],[.1693,0.921],[.1696,0.946],[.1699,0.971],[.1702,0.933],[.1705,0.956],[.1708,0.941],[.1711,0.909],[.1714,0.965],[.1717,0.949],[.1720,0.926],[.1723,0.980],
[.1680,0.996],[.1688,1.009],[.1697,0.989],[.1706,1.002],[.1715,0.993],[.1722,1.014],[.1683,0.882],[.1692,0.868],[.1701,0.891],[.1710,0.876],[.1719,0.860],[.1686,0.943],[.1700,0.938],[.1712,0.947],
[.1728,0.946],[.1731,0.929],[.1735,0.961],[.1738,0.937],[.1742,0.953],[.1745,0.921],[.1749,0.947],[.1752,0.972],[.1756,0.933],[.1759,0.958],[.1763,0.941],[.1766,0.908],[.1770,0.966],[.1773,0.950],
[.1730,0.997],[.1740,1.008],[.1751,0.990],[.1757,1.035],[.1762,1.003],[.1771,0.994],[.1734,0.883],[.1744,0.867],[.1743,0.826],[.1754,0.890],[.1764,0.874],[.1774,0.861],
[.1778,0.947],[.1782,0.930],[.1786,0.962],[.1790,0.938],[.1794,0.953],[.1798,0.919],[.1802,0.948],[.1806,0.972],[.1810,0.935],[.1814,0.958],[.1818,0.925],[.1822,0.942],
[.1781,1.012],[.1785,0.995],[.1796,1.004],[.1808,0.989],[.1819,1.001],[.1784,0.847],[.1789,0.882],[.1800,0.868],[.1812,0.889],[.1823,0.875],
[.1828,0.948],[.1832,0.931],[.1837,0.963],[.1841,0.939],[.1846,0.955],[.1850,0.917],[.1855,0.949],[.1859,0.973],[.1864,0.933],[.1868,0.960],[.1873,0.926],
[.1830,0.998],[.1843,1.007],[.1857,0.990],[.1870,1.004],[.1833,0.848],[.1840,0.881],[.1853,0.869],[.1866,0.888],[.1874,0.903],
[.1879,0.949],[.1884,0.931],[.1889,0.964],[.1894,0.940],[.1899,0.955],[.1904,0.918],[.1909,0.951],[.1914,0.975],[.1919,0.935],[.1924,0.962],
[.1882,0.996],[.1897,1.004],[.1911,0.989],[.1887,0.889],[.1902,0.878],[.1916,0.902],[.1927,0.885],
[.1930,0.950],[.1936,0.932],[.1942,0.966],[.1948,0.941],[.1954,0.957],[.1960,0.922],[.1966,0.952],[.1972,0.978],[.1978,0.937],[.1984,0.963],[.1990,0.944],[.1996,0.971],
[.1940,0.999],[.1958,0.991],[.1973,0.978],[.1988,0.931],[.1965,0.910],[.1983,0.890],[.1993,0.904],[.1947,0.896],
[.1409,1.030],[.1419,1.009],[.1447,1.046],[.1475,1.095],[.1515,1.154],[.1608,1.017],[.1675,1.021],[.1781,1.012],
[.1000,0.930],[.1002,0.913],[.1003,0.942],[.1005,0.922],[.1007,0.934],[.1008,0.907],[.1010,0.925],[.1012,0.939],[.1013,0.917],[.1015,0.946],[.1017,0.911],[.1018,0.928],[.1020,0.919],[.1022,0.936],[.1023,0.923],[.1025,0.943],[.1027,0.914],[.1028,0.931],[.1030,0.910],[.1032,0.937],
[.1033,0.930],[.1035,0.948],[.1037,0.916],[.1038,0.936],[.1040,0.902],[.1042,0.942],[.1043,0.922],[.1045,0.952],[.1047,0.912],[.1048,0.928],[.1050,0.938],[.1052,0.908],[.1053,0.944],[.1055,0.924],[.1057,0.958],[.1058,0.916],[.1060,0.934],[.1062,0.906],[.1063,0.946],[.1065,0.920],
[.1067,0.923],[.1068,0.939],[.1070,0.907],[.1072,0.931],[.1073,0.947],[.1075,0.917],[.1077,0.955],[.1078,0.925],[.1080,0.937],[.1082,0.911],[.1083,0.943],[.1085,0.901],[.1087,0.933],[.1088,0.919],[.1090,0.949],[.1092,0.927],[.1093,0.941],[.1095,0.913],[.1097,0.935],[.1098,0.951],
[.1100,0.927],[.1102,0.941],[.1103,0.911],[.1105,0.955],[.1107,0.921],[.1108,0.933],[.1110,0.905],[.1112,0.945],[.1113,0.937],[.1115,0.915],[.1117,0.951],[.1118,0.923],[.1120,0.931],[.1122,0.899],[.1123,0.939],[.1125,0.919],[.1127,0.947],[.1128,0.925],[.1130,0.957],[.1132,0.909],
[.1133,0.933],[.1135,0.911],[.1137,0.949],[.1138,0.923],[.1140,0.939],[.1142,0.903],[.1143,0.927],[.1145,0.945],[.1147,0.917],[.1148,0.955],[.1150,0.909],[.1152,0.931],[.1153,0.919],[.1155,0.941],[.1157,0.925],[.1158,0.951],[.1160,0.913],[.1162,0.935],[.1163,0.907],[.1165,0.943],
[.1167,0.928],[.1168,0.946],[.1170,0.914],[.1172,0.934],[.1173,0.900],[.1175,0.940],[.1177,0.920],[.1178,0.950],[.1180,0.910],[.1182,0.926],[.1183,0.936],[.1185,0.906],[.1187,0.942],[.1188,0.922],[.1190,0.956],[.1192,0.914],[.1193,0.932],[.1195,0.904],[.1197,0.944],[.1198,0.918],
[.1200,0.919],[.1202,0.935],[.1203,0.903],[.1205,0.927],[.1207,0.943],[.1208,0.913],[.1210,0.951],[.1212,0.921],[.1213,0.933],[.1215,0.907],[.1217,0.939],[.1218,0.897],[.1220,0.929],[.1222,0.915],[.1223,0.945],[.1225,0.923],[.1227,0.937],[.1228,0.909],[.1230,0.931],[.1232,0.947],
[.1233,0.923],[.1235,0.937],[.1237,0.907],[.1238,0.951],[.1240,0.917],[.1242,0.929],[.1243,0.901],[.1245,0.941],[.1247,0.933],[.1248,0.911],[.1250,0.947],[.1252,0.919],[.1253,0.927],[.1255,0.895],[.1257,0.935],[.1258,0.915],[.1260,0.943],[.1262,0.921],[.1263,0.953],[.1265,0.905],
[.1267,0.929],[.1268,0.907],[.1270,0.945],[.1272,0.919],[.1273,0.935],[.1275,0.899],[.1277,0.923],[.1278,0.941],[.1280,0.913],[.1282,0.951],[.1283,0.905],[.1285,0.927],[.1287,0.915],[.1288,0.937],[.1290,0.921],[.1292,0.947],[.1293,0.909],[.1295,0.931],[.1297,0.903],[.1298,0.939],
[.1300,0.924],[.1302,0.942],[.1303,0.910],[.1305,0.930],[.1307,0.896],[.1308,0.936],[.1310,0.916],[.1312,0.946],[.1313,0.906],[.1315,0.922],[.1317,0.932],[.1318,0.902],[.1320,0.938],[.1322,0.918],[.1323,0.952],[.1325,0.910],[.1327,0.928],[.1328,0.900],[.1330,0.940],[.1332,0.914],
[.1333,0.915],[.1335,0.931],[.1337,0.899],[.1338,0.923],[.1340,0.939],[.1342,0.909],[.1343,0.947],[.1345,0.917],[.1347,0.929],[.1348,0.903],[.1350,0.935],[.1352,0.893],[.1353,0.925],[.1355,0.911],[.1357,0.941],[.1358,0.919],[.1360,0.933],[.1362,0.905],[.1363,0.927],[.1365,0.943],
[.1367,0.919],[.1368,0.933],[.1370,0.903],[.1372,0.947],[.1373,0.913],[.1375,0.925],[.1377,0.897],[.1378,0.937],[.1380,0.929],[.1382,0.907],[.1383,0.943],[.1385,0.915],[.1387,0.923],[.1388,0.891],[.1390,0.931],[.1392,0.911],[.1393,0.939],[.1395,0.917],[.1397,0.949],[.1398,0.901],
[.1400,0.929],[.1402,0.907],[.1403,0.945],[.1405,0.919],[.1407,0.935],[.1408,0.899],[.1410,0.923],[.1412,0.941],[.1413,0.913],[.1415,0.951],[.1417,0.905],[.1418,0.927],[.1420,0.915],[.1422,0.937],[.1423,0.921],[.1425,0.947],[.1427,0.909],[.1428,0.931],[.1430,0.903],[.1432,0.939],
[.1433,0.928],[.1435,0.946],[.1437,0.914],[.1438,0.934],[.1440,0.900],[.1442,0.940],[.1443,0.920],[.1445,0.950],[.1447,0.910],[.1448,0.926],[.1450,0.936],[.1452,0.906],[.1453,0.942],[.1455,0.922],[.1457,0.956],[.1458,0.914],[.1460,0.932],[.1462,0.904],[.1463,0.944],[.1465,0.918],
[.1467,0.925],[.1470,0.941],[.1473,0.909],[.1476,0.933],[.1479,0.949],[.1482,0.919],[.1485,0.957],[.1488,0.927],[.1491,0.939],[.1494,0.913],[.1497,0.945],[.1500,0.903],[.1503,0.935],[.1506,0.921],[.1509,0.951],[.1512,0.929],[.1515,0.943],[.1518,0.915],[.1521,0.937],[.1524,0.953],
[.1530,0.935],[.1534,0.949],[.1537,0.919],[.1541,0.963],[.1544,0.929],[.1548,0.941],[.1551,0.913],[.1555,0.953],[.1558,0.945],[.1562,0.923],[.1565,0.959],[.1569,0.931],[.1572,0.939],[.1576,0.907],[.1579,0.947],[.1583,0.927],[.1586,0.955],[.1590,0.933],[.1593,0.965],[.1597,0.917],
[.1601,0.948],[.1605,0.926],[.1609,0.965],[.1613,0.932],[.1617,0.954],[.1621,0.914],[.1625,0.941],[.1629,0.961],[.1633,0.929],[.1637,0.972],[.1641,0.921],[.1645,0.945],[.1649,0.932],[.1653,0.956],[.1657,0.937],[.1661,0.967],[.1665,0.924],[.1669,0.950],[.1673,0.917],[.1677,0.959],
[.1005,0.975],[.1012,0.878],[.1020,0.992],[.1027,0.870],[.1035,0.968],[.1042,0.884],[.1050,0.983],[.1057,0.861],[.1065,0.998],[.1072,0.889],[.1080,0.972],[.1087,0.866],[.1095,1.006],[.1102,0.876],[.1110,0.985],[.1117,0.890],[.1125,0.969],[.1132,0.868],[.1140,0.995],[.1147,0.883],
[.1009,0.963],[.1016,0.889],[.1024,0.986],[.1031,0.877],[.1039,1.012],[.1046,0.893],[.1054,0.970],[.1061,0.880],[.1069,0.979],[.1076,0.855],[.1084,0.990],[.1091,0.887],[.1099,0.966],[.1106,0.874],[.1114,1.021],[.1121,0.885],[.1129,0.973],[.1136,0.861],[.1144,0.981],[.1151,0.893],
[.1155,0.971],[.1162,0.884],[.1170,0.990],[.1177,0.868],[.1185,0.965],[.1192,0.889],[.1200,1.004],[.1207,0.875],[.1215,0.978],[.1222,0.887],[.1230,0.967],[.1237,0.864],[.1245,0.985],[.1252,0.881],[.1260,0.972],[.1267,0.890],[.1275,0.996],[.1282,0.870],[.1290,0.964],[.1297,0.884],
[.1159,0.960],[.1166,0.892],[.1174,0.981],[.1181,0.876],[.1189,0.969],[.1196,0.858],[.1204,0.987],[.1211,0.886],[.1219,0.962],[.1226,0.871],[.1234,1.010],[.1241,0.889],[.1249,0.974],[.1256,0.866],[.1264,0.983],[.1271,0.880],[.1279,0.961],[.1286,0.892],[.1294,0.977],[.1301,0.859],
[.1305,0.968],[.1312,0.879],[.1320,0.985],[.1327,0.887],[.1335,0.962],[.1342,0.868],[.1350,0.977],[.1357,0.884],[.1365,0.995],[.1372,0.876],[.1380,0.960],[.1387,0.889],[.1395,0.973],[.1402,0.862],[.1410,0.984],[.1417,0.882],[.1425,0.966],[.1432,0.873],[.1440,0.979],[.1447,0.887],
[.1309,0.958],[.1316,0.890],[.1324,0.975],[.1331,0.871],[.1339,0.989],[.1346,0.885],[.1354,0.963],[.1361,0.877],[.1369,0.971],[.1376,0.858],[.1384,0.982],[.1391,0.892],[.1399,0.961],[.1406,0.879],[.1414,0.976],[.1421,0.867],[.1429,0.987],[.1436,0.883],[.1444,0.962],[.1451,0.874],
[.1455,0.972],[.1462,0.888],[.1470,0.989],[.1477,0.876],[.1485,0.967],[.1492,0.891],[.1500,0.981],[.1507,0.868],[.1515,0.970],[.1522,0.884],[.1530,0.992],[.1537,0.893],[.1545,0.969],[.1552,0.874],[.1560,0.983],[.1567,0.890],[.1575,0.973],[.1582,0.881],[.1590,0.996],[.1597,0.894],
[.1604,0.978],[.1612,0.895],[.1620,0.969],[.1628,0.887],[.1636,0.985],[.1644,0.899],[.1652,0.972],[.1660,0.883],[.1668,0.990],[.1676,0.896],[.1684,0.976],[.1692,0.889],[.1700,0.968],[.1708,0.898],[.1716,0.983],[.1724,0.885],[.1732,0.974],[.1740,0.901],[.1748,0.987],[.1756,0.893],
[.1762,0.966],[.1774,0.931],[.1786,0.981],[.1798,0.903],[.1810,0.957],[.1822,0.918],[.1834,0.976],[.1846,0.898],[.1858,0.944],[.1870,0.923],[.1882,0.969],[.1894,0.907],[.1906,0.953],[.1918,0.928],[.1930,0.984],[.1942,0.913],[.1954,0.940],[.1966,0.962],[.1978,0.921],[.1990,0.955],
[.1681,0.945],[.1685,0.965],[.1689,0.930],[.1693,0.952],[.1697,0.914],[.1701,0.958],[.1705,0.936],[.1709,0.969],[.1713,0.925],[.1717,0.943],[.1721,0.954],[.1725,0.921],[.1729,0.961],[.1733,0.939],[.1737,0.976],[.1741,0.930],[.1745,0.950],[.1749,0.919],[.1753,0.963],[.1757,0.934],
[.1761,0.937],[.1767,0.955],[.1773,0.920],[.1779,0.946],[.1785,0.964],[.1791,0.931],[.1797,0.973],[.1803,0.940],[.1809,0.953],[.1815,0.924],[.1821,0.959],[.1827,0.913],[.1833,0.948],[.1839,0.933],[.1845,0.966],[.1851,0.942],[.1857,0.957],[.1863,0.926],[.1869,0.951],[.1875,0.968]
];

const svg = d3.select("#chart");

const x = d3.scaleLinear().domain([0.09, 0.2]).range([104.5, 993]);
const y = d3.scaleLinear().domain([0.8, 1.2]).range([543.5, 19.3]);

const textFont = "'Liberation Sans', Arial, sans-serif";

// Markers: crosses for the original series, plus signs for the corrected one
const gOrig = svg.append("g").attr("stroke", "#1a46b0").attr("stroke-width", 1.4);
gOrig.selectAll("path").data(originalPoints).join("path")
  .attr("d", d => {
    const cx = x(d[0]), cy = y(d[1]), r = 2.0;
    return `M${cx - r},${cy - r}L${cx + r},${cy + r}M${cx - r},${cy + r}L${cx + r},${cy - r}`;
  });

const gUpd = svg.append("g").attr("stroke", "#d40000").attr("stroke-width", 1.4);
gUpd.selectAll("path").data(updatedPoints).join("path")
  .attr("d", d => {
    const cx = x(d[0]), cy = y(d[1]), r = 2.3;
    return `M${cx - r},${cy}L${cx + r},${cy}M${cx},${cy - r}L${cx},${cy + r}`;
  });

// Axes with inward ticks on all four sides
function styleAxis(g) {
  g.select(".domain").remove();
  g.selectAll(".tick line").attr("stroke", "#000").attr("stroke-width", 2);
  g.selectAll("text").attr("font-family", textFont).attr("font-size", 22).attr("fill", "#000");
}

svg.append("g").attr("transform", `translate(0,${y.range()[0]})`)
  .call(d3.axisBottom(x).tickValues(albedoTicks).tickFormat((d, i) => albedoTickLabels[i]).tickSize(-10).tickPadding(14))
  .call(styleAxis);
svg.append("g").attr("transform", `translate(0,${y.range()[1]})`)
  .call(d3.axisTop(x).tickValues(albedoTicks).tickFormat("").tickSize(-10))
  .call(styleAxis);
svg.append("g").attr("transform", `translate(${x.range()[0]},0)`)
  .call(d3.axisLeft(y).tickValues(ratioTicks).tickFormat((d, i) => ratioTickLabels[i]).tickSize(-10).tickPadding(9))
  .call(styleAxis);
svg.append("g").attr("transform", `translate(${x.range()[1]},0)`)
  .call(d3.axisRight(y).tickValues(ratioTicks).tickFormat("").tickSize(-10))
  .call(styleAxis);

// Frame
svg.append("rect")
  .attr("x", x.range()[0]).attr("y", y.range()[1])
  .attr("width", x.range()[1] - x.range()[0]).attr("height", y.range()[0] - y.range()[1])
  .attr("fill", "none").attr("stroke", "#000").attr("stroke-width", 2);

// Axis titles
svg.append("text")
  .attr("x", (x.range()[0] + x.range()[1]) / 2).attr("y", 607)
  .attr("text-anchor", "middle")
  .attr("font-family", textFont).attr("font-size", 29).attr("fill", "#000")
  .text("Albedo");

const yTitle = svg.append("text")
  .attr("transform", "translate(34,266) rotate(-90)")
  .attr("text-anchor", "middle")
  .attr("font-family", textFont).attr("font-size", 31).attr("fill", "#000");
yTitle.append("tspan").text("R");
yTitle.append("tspan").attr("font-size", 22).attr("dy", 13).text("2.78–2.98");
yTitle.append("tspan").attr("dy", -13).text(" / R");
yTitle.append("tspan").attr("font-size", 22).attr("dy", 13).text("2.54");

// Series labels
const legendColors = ["#2414c8", "#c00e0e"];
svg.selectAll("text.series").data(seriesNames).join("text")
  .attr("class", "series")
  .attr("x", 136).attr("y", (d, i) => 168 + i * 34)
  .attr("font-family", textFont).attr("font-size", 29)
  .attr("fill", (d, i) => legendColors[i])
  .text(d => d);
</script>
</body>
</html>
